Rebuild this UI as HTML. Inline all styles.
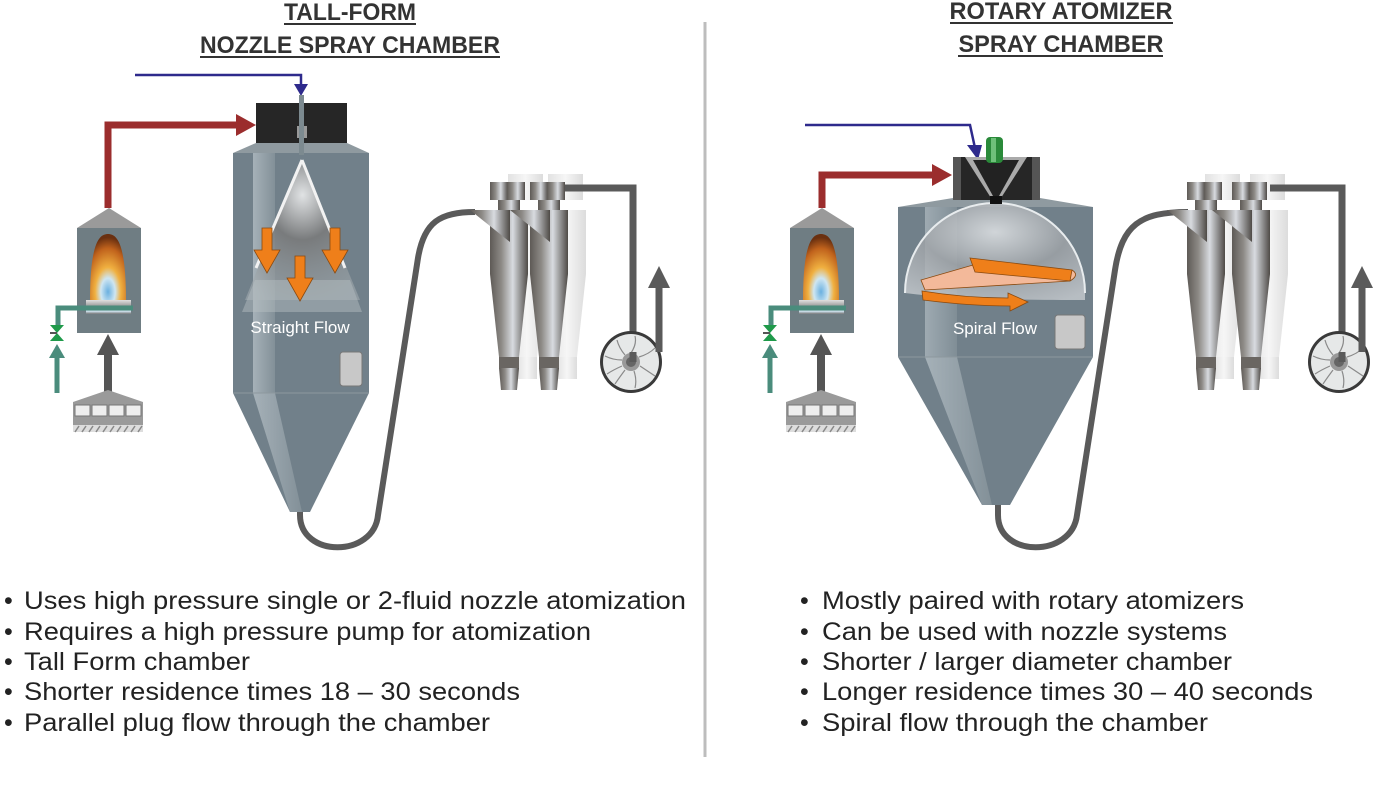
<!DOCTYPE html>
<html><head><meta charset="utf-8"><style>
html,body{margin:0;padding:0;background:#fff;}
svg{display:block;}
text{font-family:"Liberation Sans",sans-serif;}
</style></head><body>
<svg width="1377" height="786" viewBox="0 0 1377 786" xmlns="http://www.w3.org/2000/svg">
<defs>
<linearGradient id="cyl" x1="0" x2="1"><stop offset="0" stop-color="#5e5a56"/><stop offset="0.3" stop-color="#8d8a86"/><stop offset="0.6" stop-color="#d8dbe0"/><stop offset="1" stop-color="#4e4a46"/></linearGradient>
<linearGradient id="ghost" x1="0" x2="1"><stop offset="0" stop-color="#e2e2e2"/><stop offset="0.5" stop-color="#f6f6f6"/><stop offset="1" stop-color="#dcdcdc"/></linearGradient>
<linearGradient id="shine" x1="0" x2="1"><stop offset="0" stop-color="#bcc6cc"/><stop offset="1" stop-color="#8a979e"/></linearGradient>
<radialGradient id="flame" cx="0.5" cy="0.85" r="0.8"><stop offset="0" stop-color="#6ab0e0"/><stop offset="0.25" stop-color="#cfe6f2"/><stop offset="0.45" stop-color="#f0b040"/><stop offset="0.8" stop-color="#c0621c"/><stop offset="1" stop-color="#6a3010"/></radialGradient>
<radialGradient id="spray" cx="0.5" cy="0.25" r="0.8"><stop offset="0" stop-color="#f4f4f4"/><stop offset="0.4" stop-color="#7a7a7a"/><stop offset="1" stop-color="#a8b0b4" stop-opacity="0.6"/></radialGradient>
<radialGradient id="dome" cx="0.5" cy="0.3" r="0.8"><stop offset="0" stop-color="#e8eaec"/><stop offset="0.5" stop-color="#a0a4a8"/><stop offset="1" stop-color="#c8ccd0"/></radialGradient>
<linearGradient id="bar" x1="0" y1="0" x2="0" y2="1"><stop offset="0" stop-color="#e0e0e0"/><stop offset="0.5" stop-color="#909090"/><stop offset="0.8" stop-color="#cfe3f0"/><stop offset="1" stop-color="#777"/></linearGradient>
<g id="cyc">
  <rect x="0" y="0" width="18" height="18" fill="url(#cyl)"/>
  <rect x="17" y="0" width="18" height="18" fill="url(#cyl)"/>
  <rect x="8" y="18" width="22" height="10" fill="url(#cyl)"/>
  <rect x="0" y="28" width="38" height="64" fill="url(#cyl)"/>
  <path d="M-20,28 L20,28 L20,60 Z" fill="url(#cyl)"/>
  <path d="M0,92 L38,92 L29,175 L9,175 Z" fill="url(#cyl)"/>
  <rect x="9" y="175" width="20" height="11" fill="#6a6662"/>
  <path d="M9,186 L29,186 L27,208 L11,208 Z" fill="url(#cyl)"/>
</g>
<g id="gcyc">
  <rect x="0" y="-8" width="35" height="26" fill="url(#ghost)"/>
  <rect x="0" y="28" width="38" height="64" fill="url(#ghost)"/>
  <path d="M0,92 L38,92 L29,175 L9,175 Z" fill="url(#ghost)"/>
  <rect x="9" y="175" width="20" height="22" fill="url(#ghost)"/>
</g>
<g id="heater">
  <path d="M0,20 L32,0 L64,20 Z" fill="#9a9a9a"/>
  <rect x="0" y="20" width="64" height="105" fill="#6f7d83"/>
  <path d="M13,94 C13,35 22,26 31,26 C40,26 49,35 49,94 Z" fill="url(#flame)"/>
  <rect x="9" y="92" width="45" height="14" fill="url(#bar)"/>
  <path d="M56,100 L-19,100 L-19,117" fill="none" stroke="#4a8c7c" stroke-width="5"/>
  <path d="M-27,117 L-13,117 L-20,125 Z M-27,133 L-13,133 L-20,125 Z" fill="#1f9a4a"/>
  <line x1="-27" y1="125" x2="-20" y2="125" stroke="#555" stroke-width="2"/>
  <path d="M-20,185 L-20,148" stroke="#4a8c7c" stroke-width="5"/>
  <path d="M-28,150 L-12,150 L-20,136 Z" fill="#4a8c7c"/>
  <path d="M31,185 L31,145" stroke="#555" stroke-width="8"/>
  <path d="M20,147 L42,147 L31,126 Z" fill="#555"/>
  <path d="M-4,194 L31,182 L66,194 Z" fill="#9a9a9a"/>
  <rect x="-4" y="194" width="70" height="30" fill="#9a9a9a"/>
  <g fill="#eee" stroke="#777" stroke-width="1"><rect x="-2" y="197" width="15" height="11"/><rect x="15" y="197" width="15" height="11"/><rect x="32" y="197" width="15" height="11"/><rect x="49" y="197" width="15" height="11"/></g>
  <rect x="-4" y="217" width="70" height="7" fill="#ddd"/>
  <path d="M-2,224 l4,-6 M5,224 l4,-6 M12,224 l4,-6 M19,224 l4,-6 M26,224 l4,-6 M33,224 l4,-6 M40,224 l4,-6 M47,224 l4,-6 M54,224 l4,-6 M61,224 l4,-6" stroke="#888" stroke-width="1.5"/>
</g>
<g id="fan">
  <circle r="31" fill="#3a3a3a"/>
  <circle r="28" fill="#e6e8e8"/>
  <g stroke="#8a8a8a" stroke-width="1.2" fill="none">
  <path d="M0,-9 Q6,-18 4,-26 M8,-5 Q18,-8 24,-14 M9,4 Q18,10 24,14 M3,9 Q6,18 4,26 M-6,8 Q-12,16 -16,22 M-9,-2 Q-18,-2 -26,-6 M-6,-7 Q-12,-14 -14,-22 M-9,4 Q-18,8 -24,12"/></g>
  <circle r="9" fill="#999"/><circle r="5" fill="#666"/>
</g>
</defs>

<g font-weight="bold" font-size="24" fill="#333" text-anchor="middle">
<text x="350" y="20" textLength="132" lengthAdjust="spacingAndGlyphs">TALL-FORM</text>
<text x="350" y="53" textLength="300" lengthAdjust="spacingAndGlyphs">NOZZLE SPRAY CHAMBER</text>
<text x="1061" y="19" textLength="223" lengthAdjust="spacingAndGlyphs">ROTARY ATOMIZER</text>
<text x="1061" y="52" textLength="205" lengthAdjust="spacingAndGlyphs">SPRAY CHAMBER</text>
</g>
<g stroke="#333" stroke-width="2"><line x1="284" y1="24" x2="416" y2="24"/><line x1="200" y1="57" x2="500" y2="57"/><line x1="950" y1="23" x2="1173" y2="23"/><line x1="958" y1="56" x2="1163" y2="56"/></g>

<line x1="705" y1="22" x2="705" y2="757" stroke="#bdbdbd" stroke-width="3"/>

<!-- LEFT -->
<use href="#heater" x="77" y="208"/>
<path d="M108,208 L108,125 L238,125" fill="none" stroke="#9b2d2d" stroke-width="7"/>
<path d="M236,114 L256,125 L236,136 Z" fill="#9b2d2d"/>
<path d="M135,75 L301,75 L301,86" fill="none" stroke="#2e2a8c" stroke-width="2.5"/>
<path d="M294,84 L308,84 L301,96 Z" fill="#2e2a8c"/>
<path d="M300,505 L300,515 C300,558 374,558 378,515 L418,258 C424,222 440,212 475,212" fill="none" stroke="#5a5a5a" stroke-width="6"/>
<path d="M233,153 L256,143 L347,143 L369,153 Z" fill="#8f9aa0"/>
<rect x="233" y="153" width="136" height="240" fill="#71808a"/>
<rect x="253" y="153" width="22" height="240" fill="url(#shine)" opacity="0.7"/>
<path d="M233,393 L369,393 L310,512 L290,512 Z" fill="#71808a"/>
<path d="M253,393 L275,393 L302,512 L290,512 Z" fill="url(#shine)" opacity="0.7"/>
<line x1="233" y1="393" x2="369" y2="393" stroke="#8d989e"/>
<rect x="256" y="103" width="91" height="40" fill="#262626"/>
<rect x="297" y="126" width="10" height="12" fill="#999"/>
<rect x="299" y="95" width="5" height="60" fill="#7c8a90"/>
<path d="M302,160 L245,300 L360,300 Z" fill="url(#spray)" opacity="0.85"/>
<path d="M242,312 L362,312 L350,280 L255,280 Z" fill="#b8c0c4" opacity="0.45"/>
<path d="M302,160 L256,268 M302,160 L345,268" stroke="#f2f2f2" stroke-width="3"/>
<g fill="#ef7f1a" stroke="#8a4a10" stroke-width="0.8">
<path d="M262,228 h10 v22 h8 l-13,23 l-13,-23 h8 z"/>
<path d="M330,228 h10 v22 h8 l-13,23 l-13,-23 h8 z"/>
<path d="M295,256 h10 v22 h8 l-13,23 l-13,-23 h8 z"/>
</g>
<text x="300" y="333" font-size="17" fill="#fff" text-anchor="middle">Straight Flow</text>
<rect x="340" y="352" width="22" height="34" rx="3" fill="#c8c8c8" stroke="#777"/>
<use href="#gcyc" x="508" y="182"/>
<use href="#gcyc" x="548" y="182"/>
<path d="M555,188 L633,188 L633,352" fill="none" stroke="#5a5a5a" stroke-width="7"/>
<use href="#cyc" x="490" y="182"/>
<use href="#cyc" x="530" y="182"/>
<use href="#fan" x="631" y="362"/>
<path d="M633,352 L633,362" stroke="#5a5a5a" stroke-width="7"/>
<path d="M659,352 L659,285" stroke="#5a5a5a" stroke-width="7"/>
<path d="M648,288 L670,288 L659,266 Z" fill="#5a5a5a"/>

<!-- RIGHT -->
<use href="#heater" x="790" y="208"/>
<path d="M822,208 L822,175 L935,175" fill="none" stroke="#9b2d2d" stroke-width="7"/>
<path d="M932,164 L952,175 L932,186 Z" fill="#9b2d2d"/>
<path d="M805,125 L970,125 L975,148" fill="none" stroke="#2e2a8c" stroke-width="2.5"/>
<path d="M967,145 L982,145 L978,160 Z" fill="#2e2a8c"/>
<path d="M998,505 L998,515 C998,558 1072,558 1077,515 L1115,270 C1122,225 1140,212 1188,212" fill="none" stroke="#5a5a5a" stroke-width="6"/>
<path d="M898,207 L953,198 L1040,198 L1093,207 Z" fill="#8f9aa0"/>
<rect x="898" y="207" width="195" height="150" fill="#71808a"/>
<rect x="925" y="207" width="32" height="150" fill="url(#shine)" opacity="0.6"/>
<path d="M898,357 L1093,357 L1010,505 L982,505 Z" fill="#71808a"/>
<path d="M925,357 L957,357 L992,505 L982,505 Z" fill="url(#shine)" opacity="0.7"/>
<line x1="898" y1="357" x2="1093" y2="357" stroke="#8d989e"/>
<path d="M905,293 A90,90 0 0 1 1085,293 L1085,300 C1040,300 960,300 905,293 Z" fill="url(#dome)" opacity="0.8"/>
<path d="M905,293 A90,90 0 0 1 1085,293" fill="none" stroke="#e8ecee" stroke-width="2"/>
<rect x="953" y="157" width="87" height="43" fill="#262626"/>
<rect x="953" y="157" width="8" height="43" fill="#555"/><rect x="1032" y="157" width="8" height="43" fill="#555"/>
<path d="M965,157 L1027,157 L1001,198 L991,198 Z" fill="#aaa"/>
<path d="M973,160 L1019,160 L999,196 L993,196 Z" fill="#222"/>
<rect x="990" y="196" width="12" height="8" fill="#111"/>
<rect x="986" y="137" width="17" height="26" rx="4" fill="#2a8a3a"/>
<rect x="991" y="138" width="5" height="24" fill="#6ec07a"/>
<path d="M973,265 L1072,270 Q1080,275 1070,281 L925,290 L921,280 Z" fill="#f3b99a" stroke="#8a4a10" stroke-width="0.8"/>
<path d="M970,258 L1072,270 L1070,281 L975,272 Z" fill="#ef7f1a" stroke="#8a4a10" stroke-width="0.8"/>
<path d="M922,291 L923,300 Q970,306 1010,306 L1010,311 L1028,302 L1008,293 L1008,298 Q965,298 922,291 Z" fill="#ef7f1a" stroke="#8a4a10" stroke-width="0.8"/>
<text x="995" y="334" font-size="17" fill="#fff" text-anchor="middle">Spiral Flow</text>
<rect x="1055" y="315" width="30" height="34" rx="3" fill="#c8c8c8" stroke="#777"/>
<use href="#gcyc" x="1205" y="182"/>
<use href="#gcyc" x="1250" y="182"/>
<path d="M1270,188 L1342,188 L1342,352" fill="none" stroke="#5a5a5a" stroke-width="7"/>
<use href="#cyc" x="1187" y="182"/>
<use href="#cyc" x="1232" y="182"/>
<use href="#fan" x="1339" y="362"/>
<path d="M1342,352 L1342,362" stroke="#5a5a5a" stroke-width="7"/>
<path d="M1362,352 L1362,285" stroke="#5a5a5a" stroke-width="7"/>
<path d="M1351,288 L1373,288 L1362,266 Z" fill="#5a5a5a"/>

<g font-size="25" fill="#222" lengthAdjust="spacingAndGlyphs">
<text x="4" y="609">•</text><text x="24" y="609" textLength="662" lengthAdjust="spacingAndGlyphs">Uses high pressure single or 2-fluid nozzle atomization</text>
<text x="4" y="640">•</text><text x="24" y="640" textLength="567" lengthAdjust="spacingAndGlyphs">Requires a high pressure pump for atomization</text>
<text x="4" y="670">•</text><text x="24" y="670" textLength="226" lengthAdjust="spacingAndGlyphs">Tall Form chamber</text>
<text x="4" y="700">•</text><text x="24" y="700" textLength="496" lengthAdjust="spacingAndGlyphs">Shorter residence times 18 – 30 seconds</text>
<text x="4" y="731">•</text><text x="24" y="731" textLength="466" lengthAdjust="spacingAndGlyphs">Parallel plug flow through the chamber</text>
<text x="800" y="609">•</text><text x="822" y="609" textLength="422" lengthAdjust="spacingAndGlyphs">Mostly paired with rotary atomizers</text>
<text x="800" y="640">•</text><text x="822" y="640" textLength="405" lengthAdjust="spacingAndGlyphs">Can be used with nozzle systems</text>
<text x="800" y="670">•</text><text x="822" y="670" textLength="410" lengthAdjust="spacingAndGlyphs">Shorter / larger diameter chamber</text>
<text x="800" y="700">•</text><text x="822" y="700" textLength="491" lengthAdjust="spacingAndGlyphs">Longer residence times 30 – 40 seconds</text>
<text x="800" y="731">•</text><text x="822" y="731" textLength="386" lengthAdjust="spacingAndGlyphs">Spiral flow through the chamber</text>
</g>
</svg>
</body></html>
